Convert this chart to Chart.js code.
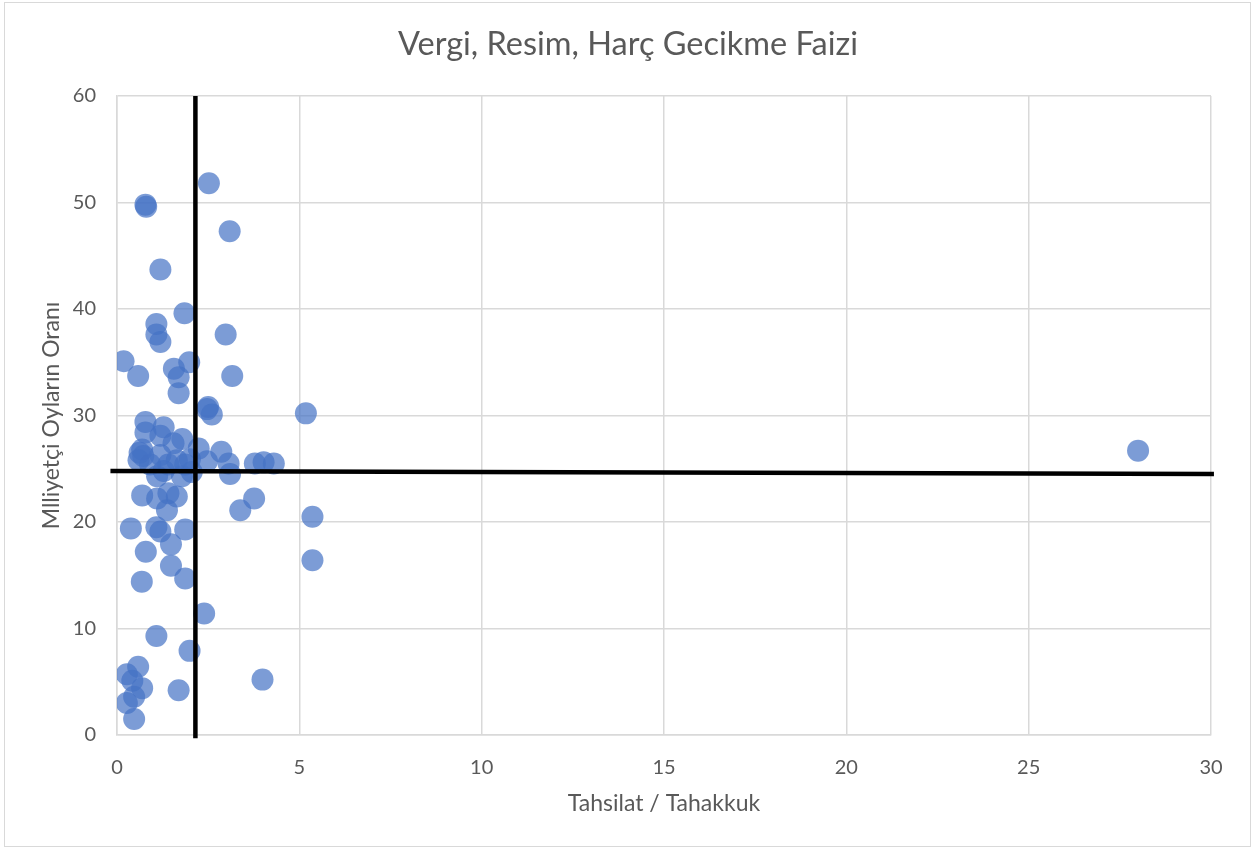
<!DOCTYPE html>
<html>
<head>
<meta charset="utf-8">
<script src="https://cdn.jsdelivr.net/npm/chart.js@4/dist/chart.umd.min.js"></script>
<style>
  body { margin: 0; background: #fff; }
  #wrap { position: relative; width: 1257px; height: 848px; }
  #frame { position: absolute; left: 4px; top: 2px; width: 1245px; height: 843px; border: 1.5px solid #d9d9d9; pointer-events: none; }
</style>
</head>
<body>
<div id="wrap">
  <canvas id="chart_faiz" width="1257" height="848"></canvas>
  <div id="frame"></div>
</div>
<script>
// Tahsilat / Tahakkuk (x) ve milliyetçi oy oranı (y), il bazında
var tahsilat = [2.52,0.78,0.8,3.09,1.19,1.85,1.08,1.08,1.19,2.98,
    0.18,1.98,0.58,1.56,1.69,3.16,1.69,2.47,2.5,2.6,
    5.18,28.0,0.78,1.28,0.78,1.19,1.79,1.55,2.24,0.69,
    0.72,1.19,0.59,0.91,1.64,1.41,1.87,2.47,2.86,3.06,
    3.1,3.78,4.02,4.3,1.1,1.78,2.05,0.69,1.1,1.41,
    1.64,3.76,1.37,3.38,5.36,0.38,1.08,1.19,1.87,0.79,
    1.48,1.48,5.36,0.68,1.87,2.39,1.08,1.99,0.58,0.27,
    0.42,0.69,1.69,3.99,0.47,0.27,0.47,1.28,0.62,2.0];
var oyOrani = [51.8,49.8,49.6,47.3,43.7,39.6,38.6,37.6,36.9,37.6,
    35.1,35.0,33.7,34.4,33.6,33.7,32.1,30.6,30.8,30.1,
    30.2,26.7,29.4,28.9,28.4,28.1,27.8,27.4,26.9,26.8,
    26.2,26.3,25.8,25.4,25.8,25.4,25.4,25.7,26.6,25.5,
    24.5,25.5,25.6,25.5,24.3,24.3,24.7,22.5,22.2,22.7,
    22.4,22.2,21.1,21.1,20.5,19.4,19.5,19.1,19.3,17.2,
    17.9,15.9,16.4,14.4,14.7,11.4,9.3,7.9,6.4,5.7,
    5.1,4.4,4.2,5.2,3.6,3.0,1.5,24.8,26.5,25.9];

// ortalama çizgileri (elle çizilmiş siyah çizgiler)
var dikeyX = [2.15, 2.15];
var dikeyY = [60, -0.3];
var yatayX = [-0.18, 30.08];
var yatayY = [24.8, 24.5];

var xTicks = [0, 5, 10, 15, 20, 25, 30];
var yTicks = [0, 10, 20, 30, 40, 50, 60];

var gri = '#595959';
var yazi = 'Lato, "Open Sans", sans-serif';

var noktalar = [];
for (i = 0; i < tahsilat.length; i++) {
    noktalar.push({x: tahsilat[i], y: oyOrani[i]});
}
var dikey = [], yatay = [];
for (i = 0; i < 2; i++) {
    dikey.push({x: dikeyX[i], y: dikeyY[i]});
    yatay.push({x: yatayX[i], y: yatayY[i]});
}

var ctx = document.getElementById('chart_faiz').getContext('2d');
var chart = new Chart(ctx, {
    type: 'scatter',
    data: {
        datasets: [{
            type: 'line',
            data: dikey,
            borderColor: '#000',
            borderWidth: 4.5,
            pointRadius: 0,
            clip: false
        }, {
            type: 'line',
            data: yatay,
            borderColor: '#000',
            borderWidth: 4.5,
            pointRadius: 0,
            clip: false
        }, {
            label: 'Vergi, Resim, Harç Gecikme Faizi',
            data: noktalar,
            backgroundColor: 'rgba(68,114,196,0.7)',
            borderWidth: 0,
            pointRadius: 11,
            pointHoverRadius: 11
        }]
    },
    options: {
        responsive: false,
        animation: false,
        // sol/sağ boşluk eşit -> başlık sayfanın ortasına gelir
        layout: { padding: { left: 45, right: 46, top: 0, bottom: 0 } },
        plugins: {
            legend: { display: false },
            tooltip: { enabled: false },
            title: {
                display: true,
                text: 'Vergi, Resim, Harç Gecikme Faizi',
                color: gri,
                font: { family: yazi, size: 32.5, weight: 'normal', lineHeight: 1.2 },
                padding: { top: 25, bottom: 32 }
            }
        },
        scales: {
            x: {
                type: 'linear',
                min: 0, max: 30,
                afterBuildTicks: function (s) { s.ticks = xTicks.map(function (v) { return {value: v}; }); },
                afterFit: function (s) { s.height = 113; },
                grid: { color: '#d9d9d9', lineWidth: 1.5, drawTicks: false },
                border: { color: '#d9d9d9', width: 1.5 },
                ticks: { color: gri, padding: 21, font: { family: yazi, size: 20 } },
                title: {
                    display: true,
                    text: 'Tahsilat / Tahakkuk',
                    color: gri,
                    font: { family: yazi, size: 23, lineHeight: 1.2 },
                    padding: { top: 0, bottom: 31 }
                }
            },
            y: {
                type: 'linear',
                min: 0, max: 60,
                afterBuildTicks: function (s) { s.ticks = yTicks.map(function (v) { return {value: v}; }); },
                afterFit: function (s) { s.width = 72; },
                grid: { color: '#d9d9d9', lineWidth: 1.5, drawTicks: false },
                border: { color: '#d9d9d9', width: 1.5 },
                ticks: { color: gri, padding: 21, font: { family: yazi, size: 20 } },
                title: {
                    display: true,
                    text: 'Mlliyetçi Oyların Oranı',
                    color: gri,
                    font: { family: yazi, size: 23, lineHeight: 0.6 },
                    padding: { top: 0, bottom: 0 }
                }
            }
        }
    }
});
</script>
</body>
</html>
